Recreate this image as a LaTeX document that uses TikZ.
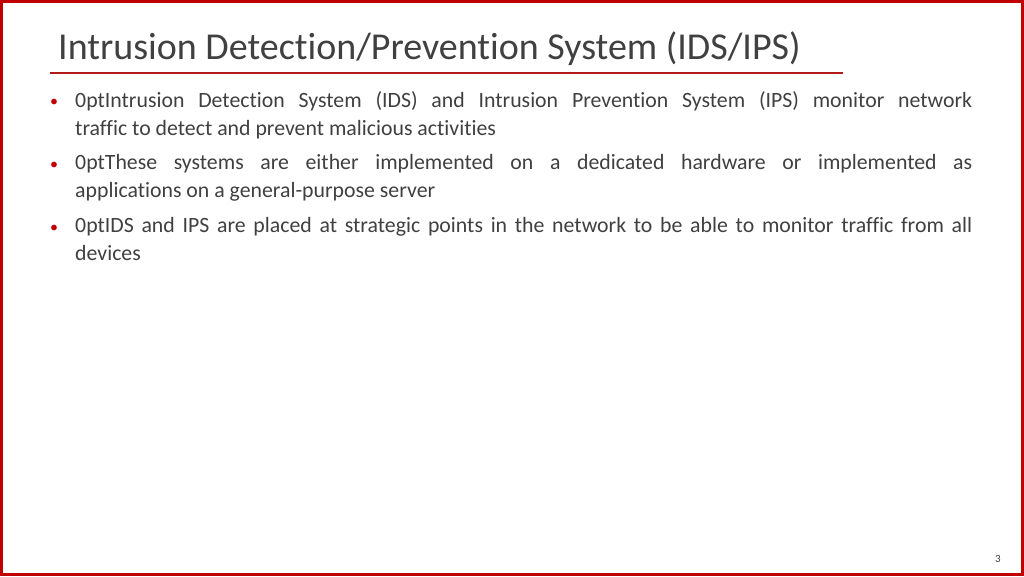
\documentclass[tikz,border=0pt]{standalone}
\usepackage{fontspec}
\setmainfont[RawFeature=-liga]{Carlito}
\definecolor{slred}{RGB}{192,0,0}
\definecolor{txt}{RGB}{64,64,64}
\begin{document}
\begin{tikzpicture}[x=1pt,y=1pt,
  bullettext/.style={anchor=north west,inner sep=0pt,text width=897pt,align=justify,font=\fontsize{21.8}{28}\selectfont\hyphenpenalty=10000,text=txt},
  bulletdot/.style={anchor=base,inner sep=0pt,font=\fontsize{16}{20}\selectfont,text=slred}]
\useasboundingbox (0,0) rectangle (1024,576);
\fill[white] (0,0) rectangle (1024,576);
\draw[slred,line width=3pt] (1.5,1.5) rectangle (1022.5,574.5);
\node[anchor=base west,inner sep=0pt,font=\fontsize{38}{40}\selectfont,text=txt] (title) at (58,516) {Intrusion Detection/Prevention System (IDS/IPS)};
\draw[slred!80!gray,line width=2pt] (50,503) -- (843,503);
\node[bullettext] (b1) at (75,592-107) {Intrusion Detection System (IDS) and Intrusion Prevention System (IPS) monitor network\linebreak traffic to detect and prevent malicious activities};
\node[bullettext] (b2) at (75,592-170) {These systems are either implemented on a dedicated hardware or implemented as\linebreak applications on a general-purpose server};
\node[bullettext] (b3) at (75,592-233) {IDS and IPS are placed at strategic points in the network to be able to monitor traffic from all\linebreak devices};
\node[bulletdot] (d1) at (54,576-107) {•};
\node[bulletdot] (d2) at (54,576-170) {•};
\node[bulletdot] (d3) at (54,576-233) {•};
\node[anchor=base,inner sep=0pt,font=\fontsize{11}{12}\selectfont,text=txt] (pg) at (998,14) {3};
\end{tikzpicture}
\end{document}
